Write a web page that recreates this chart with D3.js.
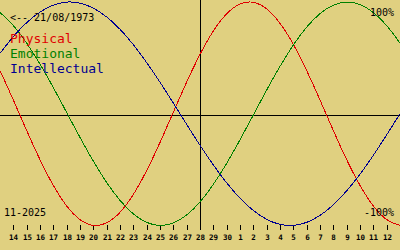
<!DOCTYPE html>
<html><head><meta charset="UTF-8">
<script src="https://cdn.jsdelivr.net/npm/d3@7"></script>
<style>
  html, body { margin: 0; padding: 0; background: #e0d080; }
  svg { display: block; }
  text { font-family: "DejaVu Sans Mono", monospace; }
</style>
</head>
<body>
<svg id="chart"></svg>
<script>

let width = 400, height = 250;

// tick labels, one per day (Oct 14 .. Nov 12 as the chart prints them)
const dayLabels = ["14","15","16","17","18","19","20","21","22","23","24","25","26","27","28",
                   "29","30","1","2","3","4","5","6","7","8","9","10","11","12"];

// curve values (-1..1), from the day before "14" to the day after "12"
const physical = [0.386, 0.123, -0.150, -0.411, -0.641, -0.825, -0.947, -0.999, -0.976, -0.882,
                  -0.722, -0.508, -0.257, 0.014, 0.283, 0.531, 0.740, 0.894, 0.982, 0.997,
                  0.938, 0.809, 0.621, 0.386, 0.123, -0.150, -0.411, -0.641, -0.825, -0.947, -0.999];
const emotional = [0.906, 0.789, 0.632, 0.444, 0.234, 0.011, -0.212, -0.424, -0.615, -0.775,
                   -0.896, -0.972, -1.000, -0.977, -0.906, -0.789, -0.632, -0.444, -0.233, -0.011,
                   0.212, 0.424, 0.615, 0.775, 0.896, 0.972, 1.000, 0.977, 0.906, 0.789, 0.632];
const intellectual = [0.541, 0.690, 0.815, 0.910, 0.972, 0.999, 0.990, 0.945, 0.866, 0.756,
                      0.618, 0.458, 0.282, 0.095, -0.095, -0.282, -0.458, -0.618, -0.756, -0.866,
                      -0.945, -0.990, -0.999, -0.972, -0.910, -0.815, -0.690, -0.541, -0.372, -0.189, 0.000];

const series = [
  {name: "Physical", values: physical, color: "#e00000"},
  {name: "Emotional", values: emotional, color: "#008000"},
  {name: "Intellectual", values: intellectual, color: "#000090"}
];

const birthLabel = "<-- 21/08/1973";
const monthLabel = "11-2025";

let svg = d3.select("#chart")
    .attr("width", width)
    .attr("height", height)

svg.append("rect").attr("width", width).attr("height", height).attr("fill", "#e0d080")

// day index -1 .. 29 spans the full width
let x = d3.scaleLinear().domain([-1, 29]).range([0, width])
let y = d3.scaleLinear().domain([-1, 1]).range([225.5, 2])

// axes
let todayIdx = dayLabels.indexOf("28")
svg.append("line")
    .attr("x1", Math.round(x(todayIdx)) + 0.5).attr("x2", Math.round(x(todayIdx)) + 0.5)
    .attr("y1", 0).attr("y2", 230)
    .attr("stroke", "black").attr("shape-rendering", "crispEdges")
svg.append("line")
    .attr("x1", 0).attr("x2", width)
    .attr("y1", Math.round(y(0) + 1.25) + 0.5).attr("y2", Math.round(y(0) + 1.25) + 0.5)
    .attr("stroke", "black").attr("shape-rendering", "crispEdges")

// day ticks + labels
let ticks = svg.append("g").selectAll("g")
    .data(dayLabels)
    .enter().append("g")
    .attr("transform", (d, i) => "translate(" + (Math.round(x(i)) + 0.5) + ",0)")
ticks.append("line")
    .attr("y1", 225).attr("y2", 230)
    .attr("stroke", "black").attr("shape-rendering", "crispEdges")
ticks.append("text")
    .attr("y", 240)
    .attr("text-anchor", "middle")
    .style("font-size", "7.5px")
    .style("font-weight", "bold")
    .text(d => d)

// curves
let line = d3.line()
    .x((d, i) => x(i - 1))
    .y(d => y(d))
    .curve(d3.curveNatural)

svg.append("g").selectAll("path")
    .data(series)
    .enter().append("path")
    .attr("d", d => line(d.values))
    .attr("fill", "none")
    .attr("stroke", d => d.color)
    .attr("stroke-width", 1)
    .attr("shape-rendering", "crispEdges")

// texts
svg.append("text").attr("x", 10).attr("y", 20.5)
    .style("font-size", "10px").text(birthLabel)

svg.append("g").selectAll("text")
    .data(series)
    .enter().append("text")
    .attr("x", 10)
    .attr("y", (d, i) => 42.5 + i * 15)
    .attr("fill", d => d.color)
    .style("font-size", "13px")
    .text(d => d.name)

svg.append("text").attr("x", 394).attr("y", 16)
    .attr("text-anchor", "end").style("font-size", "10px").text("100%")
svg.append("text").attr("x", 394).attr("y", 215.5)
    .attr("text-anchor", "end").style("font-size", "10px").text("-100%")
svg.append("text").attr("x", 4).attr("y", 215.5)
    .style("font-size", "10px").text(monthLabel)

</script>
</body></html>
